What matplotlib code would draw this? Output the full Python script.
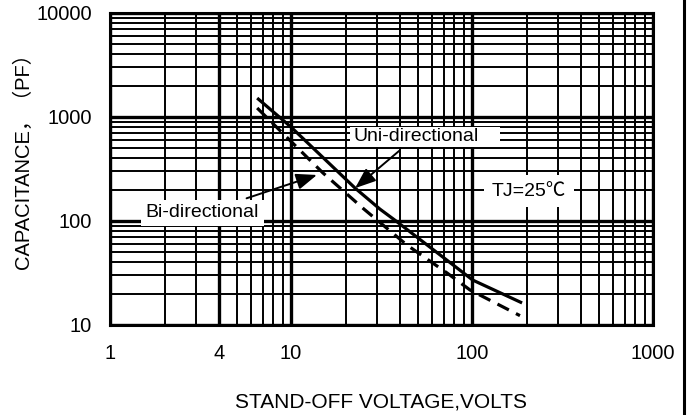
import matplotlib
matplotlib.use("Agg")
import matplotlib.pyplot as plt
from matplotlib.lines import Line2D
from matplotlib.patches import Rectangle

plt.rcParams["font.family"] = ["Liberation Sans", "Noto Sans CJK SC", "DejaVu Sans"]

# values (log-log)
uni_v = [6.5, 10, 22.6, 31, 38, 101, 189]
uni_c = [1520, 800, 207, 130, 100, 27, 16.3]
bi_v = [6.5, 15, 25.3, 43.7, 72.8, 97.5, 184]
bi_c = [1220, 290, 130, 58.7, 31.6, 21.7, 12.3]

x_ticks = [1, 4, 10, 100, 1000]
x_labels = ["1", "4", "10", "100", "1000"]
y_ticks = [10, 100, 1000, 10000]
y_labels = ["10", "100", "1000", "10000"]

fig = plt.figure(figsize=(6.89, 4.15), dpi=100)
ax = fig.add_axes([0.1597, 0.2169, 0.7881, 0.7518])
ax.set_xscale("log")
ax.set_yscale("log")
ax.set_xlim(1, 1000)
ax.set_ylim(10, 10000)

ax.grid(True, which="minor", color="black", lw=1.4)
ax.grid(True, which="major", color="black", lw=2.4)
ax.set_axisbelow(True)
for s in ax.spines.values():
    s.set_linewidth(2.2)

ax.set_xticks(x_ticks)
ax.set_xticklabels(x_labels)
ax.set_yticks(y_ticks)
ax.set_yticklabels(y_labels)
ax.tick_params(which="both", length=0, labelsize=14.5)
ax.tick_params(axis="x", pad=14)
ax.tick_params(axis="y", pad=13)

ax.plot(uni_v, uni_c, color="black", lw=2.3, solid_capstyle="butt")
ax.plot(bi_v, bi_c, color="black", lw=2.3, ls=(0, (4, 2.5)))

arrow = dict(arrowstyle="-|>,head_length=0.9,head_width=0.35",
             color="black", lw=1.4, shrinkA=3, shrinkB=0)

# white gap behind the Uni-directional label
ax.add_patch(Rectangle((0.442, 0.571), 0.276, 0.064, transform=ax.transAxes,
                       fc="white", ec="none", zorder=2.5))
ax.annotate("Uni-directional", xy=(22.6, 207), xycoords="data",
            xytext=(0.563, 0.603), textcoords="axes fraction",
            ha="center", va="center", fontsize=14, zorder=4,
            arrowprops=arrow)
ax.annotate("Bi-directional", xy=(13.9, 277), xycoords="data",
            xytext=(0.17, 0.359), textcoords="axes fraction",
            ha="center", va="center", fontsize=14, zorder=4,
            bbox=dict(boxstyle="square,pad=0.25", fc="white", ec="none"),
            arrowprops=arrow)
ax.text(0.772, 0.429, "TJ=25℃", transform=ax.transAxes, ha="center",
        va="center", fontsize=14, zorder=4,
        bbox=dict(boxstyle="square,pad=0.4", fc="white", ec="none"))

ax.set_xlabel("STAND-OFF VOLTAGE,VOLTS", fontsize=15)
ax.xaxis.set_label_coords(0.499, -0.215)
ax.set_ylabel("CAPACITANCE，（PF）", fontsize=14.5)
ax.yaxis.set_label_coords(-0.142, 0.54)

fig.add_artist(Line2D([0.9925, 0.9925], [0, 1], transform=fig.transFigure,
                      color="black", lw=2.2))

fig.savefig("out.png", dpi=100)
